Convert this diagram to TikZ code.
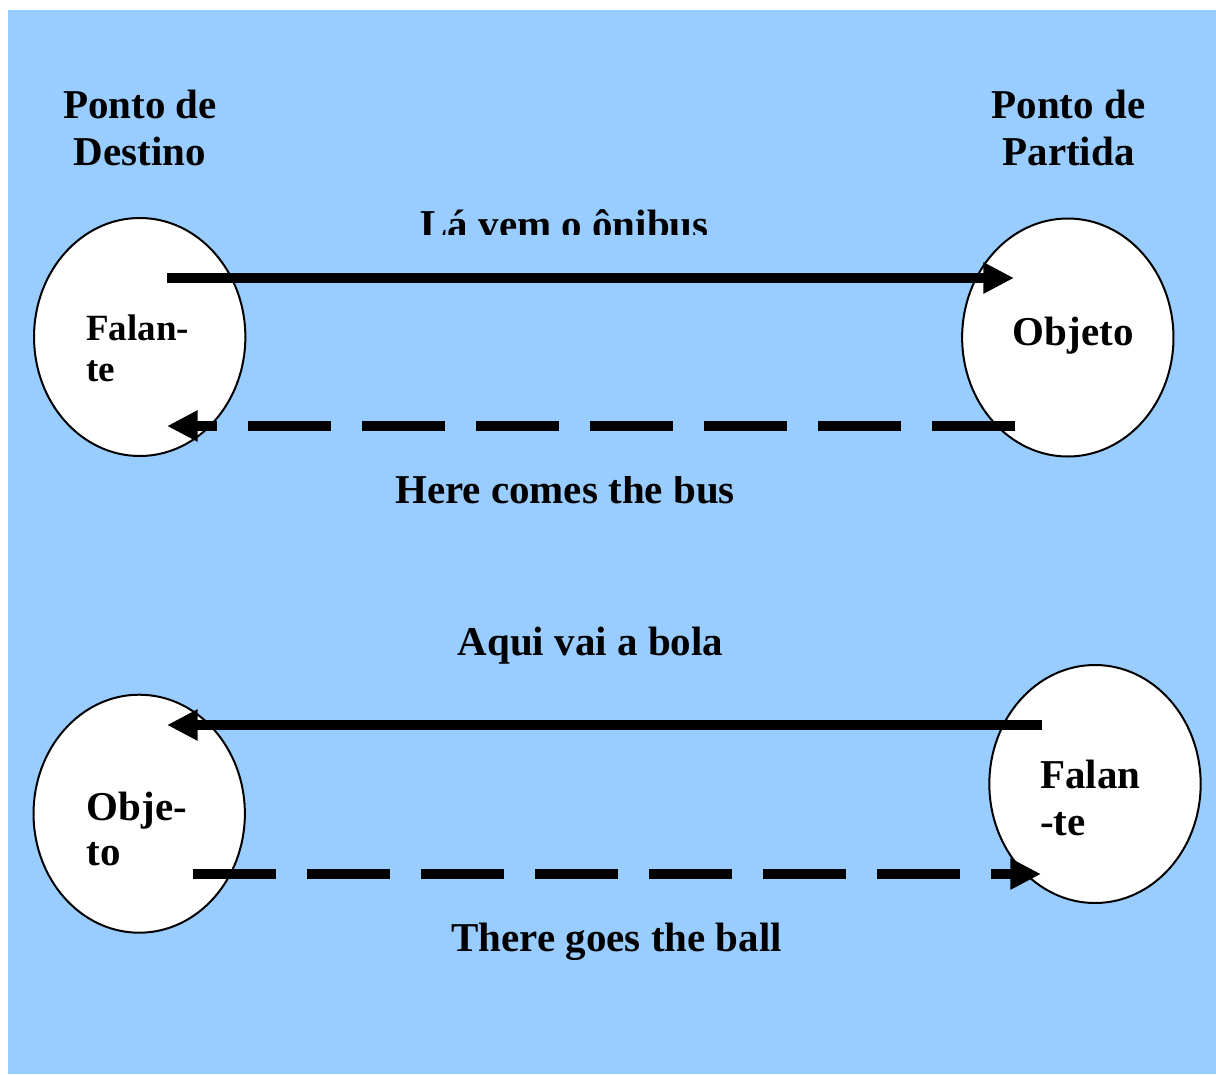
\documentclass[tikz,border=0pt]{standalone}
\usepackage{fontspec}
\setmainfont{Liberation Serif}
\usetikzlibrary{arrows.meta,shapes.geometric}
\definecolor{bgblue}{RGB}{153,204,255}
\begin{document}
\begin{tikzpicture}[x=0.75pt,y=-0.75pt,
  bubble/.style={shape=ellipse, draw=black, line width=1.5pt, fill=white,
    minimum width=158.5pt, minimum height=178.5pt, inner sep=0pt},
  lbl/.style={inner sep=0pt, text=black, font=\bfseries\fontsize{30.75}{35.25}\selectfont},
  arr/.style={line width=7.75pt, -{Triangle[length=23pt,width=22pt]}},
  dsh/.style={arr, dash pattern=on 62.25pt off 23.25pt}
]
\useasboundingbox (0,0) rectangle (1216,1074);
\fill[bgblue] (8,10) rectangle (1216,1074);

% ellipses
\node[bubble] (e1) at (139.7,337) {};
\node[bubble] (e2) at (1067.8,337.5) {};
\node[bubble] (e3) at (139.2,813.7) {};
\node[bubble] (e4) at (1095,784) {};

% arrow end points
\coordinate (a1s) at (167,278);
\coordinate (a1t) at (1014,278);
\coordinate (a2s) at (1015,426);
\coordinate (a2t) at (167,426);
\coordinate (a3s) at (1042,725);
\coordinate (a3t) at (167,725);
\coordinate (a4s) at (193,874);
\coordinate (a4t) at (1041,874);

\draw[arr] (a1s) -- (a1t);
\draw[dsh] (a2s) -- (a2t);
\draw[arr] (a3s) -- (a3t);
\draw[dsh] (a4s) -- (a4t);

% headers
\node[lbl, align=center] (h1) at (140,127.6) {Ponto de\\Destino};
\node[lbl, align=center] (h2) at (1068.5,127.6) {Ponto de\\Partida};

% arrow labels
\begin{scope}
  \clip (300,190) rectangle (850,234);
  \node[lbl, anchor=base] (t1) at (564.5,238) {Lá vem o ônibus};
\end{scope}
\begin{scope}
  \clip (300,476.5) rectangle (850,504);
  \node[lbl, anchor=base] (t2) at (565,503.5) {Here comes the bus};
\end{scope}
\node[lbl, anchor=base] (t3) at (590.5,655) {Aqui vai a bola};
\node[lbl, anchor=base] (t4) at (616.7,951.7) {There goes the ball};

% texts inside ellipses
\node[lbl, font=\bfseries\fontsize{27.75}{31.3}\selectfont, align=left, anchor=west] (x1) at (86,348.4) {Falan-\\te};
\node[lbl, anchor=base] (x2) at (1073.3,345) {Objeto};
\node[lbl, font=\bfseries\fontsize{30.75}{33.75}\selectfont, align=left, anchor=west] (x3) at (86.7,828.8) {Obje-\\to};
\node[lbl, font=\bfseries\fontsize{30.75}{35}\selectfont, align=left, anchor=west] (x4) at (1040,797.8) {Falan\\-te};
\end{tikzpicture}
\end{document}
